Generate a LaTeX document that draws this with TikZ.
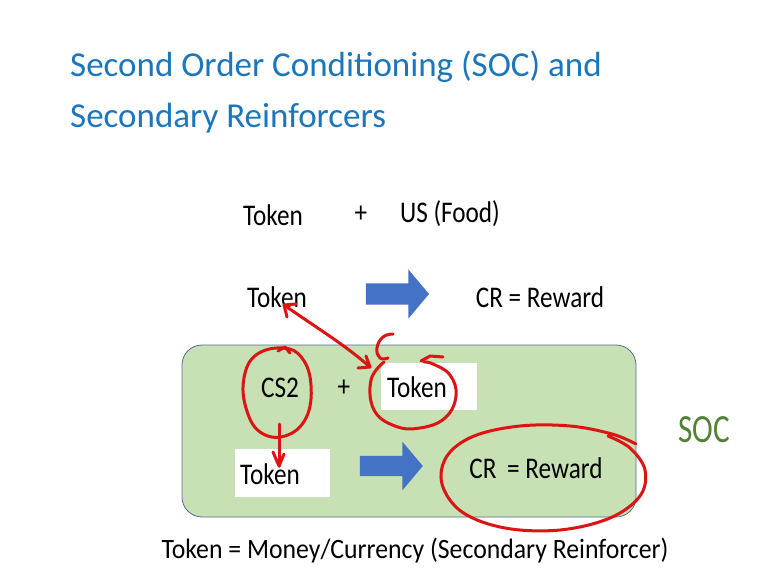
\documentclass[tikz,border=0pt]{standalone}
\usepackage{fontspec}
\setmainfont{Carlito}
\newfontfamily\bodyfont{Carlito}[FakeStretch=0.84]
\newfontfamily\notefont{Carlito}[FakeStretch=0.92]
\newfontfamily\socfont{Carlito}[FakeStretch=0.78]
\usetikzlibrary{shapes.arrows,arrows.meta}
\definecolor{titleblue}{RGB}{28,118,188}
\definecolor{socgreen}{RGB}{84,130,53}
\definecolor{boxgreen}{RGB}{199,224,180}
\definecolor{boxedge}{RGB}{80,110,150}
\definecolor{arrowblue}{RGB}{68,114,196}
\definecolor{pen}{RGB}{220,20,20}
\tikzset{
  body/.style={font=\bodyfont\fontsize{30}{32}\selectfont, inner sep=0pt, anchor=base},
  titletext/.style={font=\fontsize{35}{40}\selectfont, text=titleblue, inner sep=0pt, anchor=base west},
  whitebox/.style={fill=white, draw=none, inner sep=0pt},
  blockarrow/.style={single arrow, fill=arrowblue, draw=none, inner xsep=0pt, inner ysep=10.5pt,
    minimum height=63pt, single arrow head extend=14pt,
    single arrow tip angle=100},
  penline/.style={draw=pen, line width=3pt, line cap=round, line join=round},
}
\begin{document}
\begin{tikzpicture}[x=1pt,y=-1pt]
\useasboundingbox (0,0) rectangle (767,575);
\fill[white] (0,0) rectangle (767,575);

% title
\node[titletext] (t1) at (70,77) {Second Order Conditioning (SOC) and};
\node[titletext] (t2) at (70,127) {Secondary Reinforcers};

% first-order pairing
\node[body] (tok1) at (273,225) {Token};
\node[body] (plus1) at (361,222) {+};
\node[body] (us) at (450,222) {US (Food)};

\node[body] (tok2) at (277,307) {Token};
\node[blockarrow] (arr1) at (393,294) {};
\node[body] (cr1) at (540,307) {CR = Reward};

% second-order conditioning panel
\node[draw=boxedge, line width=0.8pt, fill=boxgreen, rounded corners=20pt,
      minimum width=454pt, minimum height=172pt, inner sep=0pt] (soc) at (409,431) {};
\node[whitebox, minimum width=96pt, minimum height=47pt] (wb1) at (429,386) {};
\node[whitebox, minimum width=95pt, minimum height=48pt] (wb2) at (282,473) {};

\node[body] (cs2) at (280,397) {CS2};
\node[body] (plus2) at (344,396) {+};
\node[body] (tok3) at (417,397) {Token};
\node[body] (tok4) at (270,484) {Token};
\node[blockarrow, inner ysep=10pt, single arrow head extend=14pt] (arr2) at (387,466) {};
\node[body] (cr2) at (536,478) {CR\,\ = Reward};

\node[font=\socfont\fontsize{40}{44}\selectfont, text=socgreen, inner sep=0pt, anchor=base] (soclabel) at (704,442) {SOC};

\node[font=\notefont\fontsize{28}{30}\selectfont, inner sep=0pt, anchor=base] (def) at (415,558) {Token = Money/Currency (Secondary Reinforcer)};

% pen annotations
\draw[penline] plot[smooth cycle, tension=0.7] coordinates {(283,348) (302,358) (311,385) (306,418) (285,436) (260,432) (246,408) (244,378) (256,355)};
\draw[penline] (278,351) -- (285,347) -- (290,353);
\coordinate (csBot) at (279,424);
\coordinate (tokTop) at (279,466);
\draw[penline] (csBot) -- (tokTop);
\draw[penline] (273,452) -- (tokTop) -- (284,454);

\draw[penline] plot[smooth, tension=0.7] coordinates {(384,362) (371,380) (374,410) (395,426) (420,428) (445,418) (456,396) (450,375) (433,364) (424,362)};
\draw[penline] (421,361) -- (430,356) -- (443,357);
\draw[penline] plot[smooth, tension=0.8] coordinates {(393,334) (383,337) (377,348) (380,358) (388,358)};

\coordinate (linkA) at (284,305);
\coordinate (linkB) at (370,367);
\draw[penline] (linkA) .. controls (320,330) and (345,345) .. (linkB);
\draw[penline] (296,304) -- (linkA) -- (287,317);
\draw[penline] (358,368) -- (linkB) -- (366,356);

\draw[penline] plot[smooth, tension=0.6] coordinates {(636,444) (612,434) (570,426) (520,426) (474,436) (447,456) (442,484) (462,512) (505,528) (560,530) (610,518) (640,496) (645,470) (630,448) (608,436)};
\end{tikzpicture}
\end{document}
